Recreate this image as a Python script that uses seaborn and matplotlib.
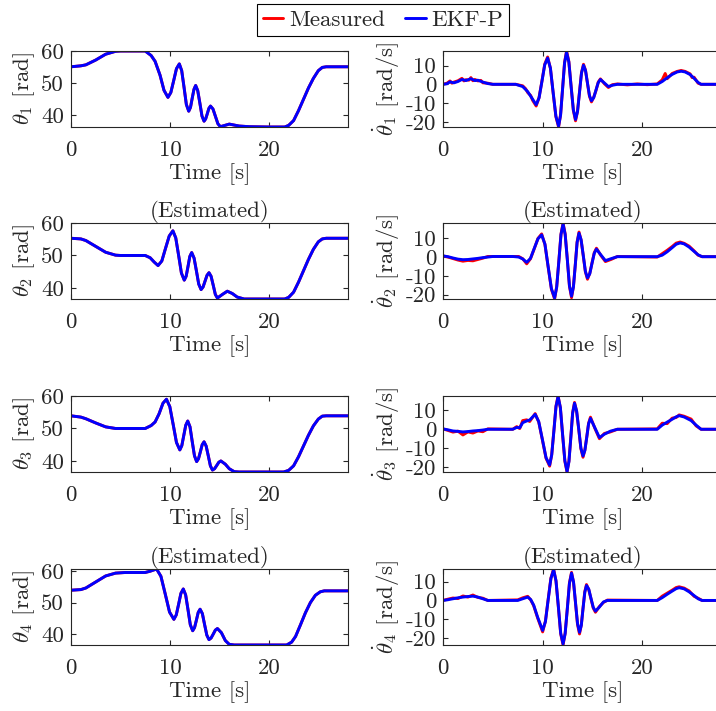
import matplotlib
matplotlib.use("Agg")
import matplotlib.pyplot as plt
import seaborn as sns

# ---------------- data ----------------
time_ticks = [0, 10, 20]
pos_ticks = [40, 50, 60]
vel_ticks = [-20, -10, 0, 10]

# joint positions (estimated, EKF-P)
t_th1 = [0, 1.0, 1.5, 2.5, 3.5, 4.5, 5.0, 7.5, 8.1, 8.5, 9.0, 9.4, 9.8,
         10.09, 10.38, 10.66, 10.95, 11.19, 11.43, 11.66, 11.9, 12.08, 12.25, 12.43, 12.6,
         12.81, 13.03, 13.24, 13.45, 13.61, 13.78, 13.94, 14.1, 14.35, 14.6, 14.85, 15.1,
         15.55, 16.0, 16.5, 17.0, 18.0, 20.0, 21.6, 22.0, 22.5, 23.0, 23.5, 24.0, 24.5,
         25.0, 25.4, 25.8, 28.0]
th1_est = [55.1, 55.4, 55.7, 57.2, 59.0, 59.9, 60.0, 60.0, 58.6, 56.8, 52.5, 47.8, 45.6,
           47.1, 50.8, 54.5, 56.0, 53.9, 48.65, 43.4, 41.3, 42.5, 45.3, 48.1, 49.3,
           47.7, 43.75, 39.8, 38.2, 38.9, 40.55, 42.2, 42.9, 42.0, 39.7, 37.4, 36.5,
           36.9, 37.3, 37.0, 36.7, 36.5, 36.4, 36.4, 36.9, 38.4, 41.5, 45.0, 48.5, 51.5,
           53.9, 54.9, 55.1, 55.1]

t_th2 = [0, 1.0, 1.5, 2.5, 3.5, 4.5, 5.0, 7.5, 8.0, 8.4, 8.8, 9.18, 9.55, 9.93, 10.3,
         10.59, 10.88, 11.16, 11.45, 11.64, 11.83, 12.01, 12.2, 12.44, 12.68, 12.91, 13.15,
         13.35, 13.55, 13.75, 13.95, 14.16, 14.38, 14.59, 14.8, 15.3, 15.8, 16.3, 16.8,
         17.5, 21.6, 22.0, 22.5, 23.0, 23.5, 24.0, 24.5, 25.0, 25.4, 25.8, 28.0]
th2_est = [55.3, 55.1, 54.6, 52.8, 51.0, 50.1, 50.0, 50.0, 49.3, 48.0, 46.9, 48.3, 52.15,
           56.0, 57.6, 55.4, 50.0, 44.6, 42.4, 43.6, 46.65, 49.7, 50.9, 49.2, 45.2, 41.2,
           39.5, 40.3, 42.1, 43.9, 44.7, 43.6, 40.8, 38.0, 36.9, 38.0, 39.0, 38.3, 37.2,
           36.6, 36.6, 37.1, 38.7, 41.8, 45.3, 48.8, 51.9, 54.2, 55.1, 55.3, 55.3]

t_th3 = [0, 1.0, 1.5, 2.5, 3.5, 4.5, 7.5, 8.1, 8.5, 8.9, 9.3, 9.65, 9.99, 10.33, 10.66,
         11.0, 11.2, 11.4, 11.6, 11.8, 12.03, 12.25, 12.48, 12.7, 12.89, 13.08, 13.26,
         13.45, 13.66, 13.88, 14.09, 14.3, 14.51, 14.73, 14.94, 15.15, 15.6, 16.0, 16.5,
         17.0, 21.5, 22.0, 22.5, 23.0, 23.5, 24.0, 24.5, 25.0, 25.4, 25.8, 28.0]
th3_est = [53.9, 53.5, 53.0, 51.7, 50.5, 50.0, 50.0, 50.9, 52.0, 54.5, 57.8, 59.0, 56.7,
           51.2, 45.7, 43.4, 44.7, 47.85, 51.0, 52.3, 50.5, 46.05, 41.6, 39.8, 40.7,
           42.85, 45.0, 45.9, 44.6, 41.55, 38.5, 37.2, 37.6, 38.6, 39.6, 40.0, 39.0,
           37.6, 36.7, 36.6, 36.6, 37.1, 38.5, 41.3, 44.6, 47.9, 50.8, 52.9, 53.8, 53.9,
           53.9]

t_th4 = [0, 1.0, 1.5, 2.5, 3.5, 4.5, 5.5, 7.5, 8.0, 8.65, 9.09, 9.53, 9.96, 10.4,
         10.64, 10.88, 11.11, 11.35, 11.59, 11.83, 12.06, 12.3, 12.49, 12.68, 12.86,
         13.05, 13.28, 13.5, 13.73, 13.95, 14.16, 14.38, 14.59, 14.8, 15.2, 15.6, 16.0,
         16.5, 21.8, 22.3, 22.7, 23.2, 23.7, 24.2, 24.7, 25.2, 25.6, 28.0]
th4_est = [53.9, 54.1, 54.6, 56.5, 58.4, 59.3, 59.5, 59.5, 59.9, 60.6, 58.3, 52.65,
           47.0, 44.7, 46.1, 49.5, 52.9, 54.3, 52.4, 47.7, 43.0, 41.1, 42.1, 44.5, 46.9,
           47.9, 46.5, 43.1, 39.7, 38.3, 38.8, 40.05, 41.3, 41.8, 40.5, 38.0, 36.8, 36.6,
           36.6, 37.5, 39.3, 43.0, 46.8, 50.0, 52.3, 53.4, 53.7, 53.7]

# measured positions coincide with the estimates in the picture
th1_meas = list(th1_est)
th2_meas = list(th2_est)
th3_meas = list(th3_est)
th4_meas = list(th4_est)

# joint velocities (estimated, EKF-P)
t_w1 = [0, 0.4, 0.7, 1.1, 1.5, 1.9, 2.3, 2.8, 3.2, 3.5, 4.0, 4.5, 5.0, 7.3, 8.0, 8.5,
        9.0, 9.35, 9.64, 9.93, 10.21, 10.5, 10.78, 11.05, 11.33, 11.6, 11.8, 12.0, 12.2,
        12.4, 12.63, 12.85, 13.08, 13.3, 13.5, 13.7, 13.9, 14.1, 14.3, 14.5, 14.7, 14.9,
        15.13, 15.35, 15.58, 15.8, 16.2, 16.6, 17.0, 17.5, 21.5, 22.0, 22.5, 23.0, 23.5,
        23.9, 24.3, 24.8, 25.2, 25.6, 25.9, 28.0]
w1_est = [0.0, 0.3, 1.3, 0.8, 1.5, 2.6, 2.0, 3.0, 2.0, 2.2, 1.2, 0.4, 0.0, 0.0, -1.2,
          -3.9, -8.0, -10.9, -7.3, 1.55, 10.4, 14.0, 8.7, -4.15, -17.0, -22.3, -16.5,
          -2.55, 11.4, 17.2, 11.9, -0.8, -13.5, -18.8, -14.6, -4.3, 6.0, 10.2, 7.4, 0.7,
          -6.0, -8.8, -7.1, -3.1, 0.9, 2.6, 0.7, -1.2, -0.5, 0.0, 0.0, 1.5, 3.5, 5.3, 6.6,
          7.0, 6.6, 5.2, 3.2, 1.0, 0.0, 0.0]
t_w1_meas = [0, 0.4, 0.7, 0.9, 1.1, 1.5, 1.9, 2.1, 2.3, 2.6, 2.8, 3.0, 3.2, 3.5, 3.8,
             4.0, 4.5, 5.0, 7.3, 8.0, 8.3, 8.5, 8.8, 9.0, 9.35, 9.64, 9.93, 10.21, 10.5,
             10.78, 11.05, 11.33, 11.6, 11.8, 12.0, 12.2, 12.4, 12.63, 12.85, 13.08, 13.3,
             13.5, 13.7, 13.9, 14.1, 14.3, 14.5, 14.7, 14.9, 15.13, 15.35, 15.58, 15.8,
             16.2, 16.6, 17.0, 17.5, 18.5, 19.5, 20.5, 21.5, 22.0, 22.3, 22.5, 23.0, 23.5,
             23.9, 24.3, 24.8, 25.0, 25.2, 25.6, 25.9, 28.0]
w1_meas = [0.0, 0.6, 1.8, 0.6, 1.2, 1.9, 3.2, 1.8, 2.5, 2.2, 3.6, 1.9, 2.6, 1.8, 2.1,
           0.8, 0.6, 0.0, 0.0, -0.8, -2.4, -4.4, -6.0, -8.6, -11.6, -7.0, 1.8, 10.8, 14.6,
           8.5, -4.4, -17.3, -22.8, -16.2, -2.3, 11.7, 17.8, 12.2, -0.6, -13.9, -19.5,
           -14.3, -4.0, 6.3, 10.7, 7.6, 0.4, -6.4, -9.4, -6.8, -3.4, 1.2, 2.9, 0.3, -1.7,
           -0.2, 0.2, -0.3, 0.2, -0.2, 0.2, 2.4, 5.8, 3.0, 5.8, 6.9, 7.4, 6.9, 5.6, 3.6,
           3.8, 0.6, 0.0, 0.0]

t_w2 = [0, 0.5, 1.0, 1.5, 2.0, 2.5, 3.0, 3.5, 4.0, 4.5, 5.0, 7.0, 7.6, 8.0, 8.4, 8.78,
        9.15, 9.53, 9.9, 10.23, 10.55, 10.88, 11.2, 11.41, 11.63, 11.84, 12.05, 12.26,
        12.48, 12.69, 12.9, 13.09, 13.28, 13.46, 13.65, 13.86, 14.08, 14.29, 14.5,
        14.73, 14.95, 15.18, 15.4, 15.85, 16.3, 16.9, 17.5, 21.5, 22.0, 22.5, 23.0,
        23.4, 23.8, 24.2, 24.7, 25.2, 25.6, 26.0, 28.0]
w2_est = [0.6, 0.2, -0.5, -1.1, -1.4, -1.3, -1.0, -0.7, -0.3, 0.0, 0.3, 0.3, 0.0, -1.0,
          -2.8, -0.7, 4.5, 9.7, 11.8, 6.9, -4.95, -16.8, -21.7, -16.0, -2.05, 11.9, 17.6,
          12.0, -1.6, -15.2, -20.8, -15.9, -4.05, 7.8, 12.7, 9.2, 0.8, -7.6, -11.1, -8.9,
          -3.45, 2.0, 4.2, 1.1, -1.9, -0.8, 0.2, 0.2, 1.0, 2.8, 5.0, 6.8, 7.5, 7.0, 5.3,
          3.0, 1.2, 0.2, 0.2]
w2_meas = [0.6, 0.0, -0.8, -1.6, -2.2, -1.8, -2.0, -1.3, -0.6, 0.3, 0.3, 0.3, 0.3, -0.9,
           -3.6, -0.9, 4.3, 9.9, 12.3, 6.7, -5.2, -17.1, -22.3, -15.7, -1.8, 12.2, 18.1,
           12.3, -1.4, -15.5, -21.6, -15.6, -3.8, 8.1, 13.3, 9.0, 0.5, -7.9, -11.8, -8.6,
           -3.2, 2.3, 4.7, 0.8, -2.4, -1.2, 0.3, 0.0, 1.8, 3.6, 5.6, 7.4, 8.0, 7.3, 5.8,
           3.3, 1.0, 0.2, 0.2]

t_w3 = [0, 0.5, 1.0, 1.5, 2.0, 2.5, 3.0, 3.5, 4.0, 4.5, 7.0, 7.4, 7.7, 8.0, 8.4, 8.7,
        9.25, 9.61, 9.98, 10.34, 10.7, 10.91, 11.13, 11.34, 11.55, 11.78, 12.0, 12.23,
        12.45, 12.64, 12.83, 13.01, 13.2, 13.41, 13.63, 13.84, 14.05, 14.24, 14.43,
        14.61, 14.8, 15.25, 15.7, 16.2, 16.8, 17.5, 21.5, 22.0, 22.5, 23.0, 23.4, 23.7,
        24.2, 24.9, 25.4, 25.9, 28.0]
w3_est = [0.2, -0.3, -0.9, -1.1, -1.4, -1.2, -0.9, -0.7, -0.4, 0.0, 0.0, 1.0, 0.8, 3.5,
          4.4, 4.9, 7.9, 4.0, -5.5, -15.0, -18.9, -13.6, -0.8, 12.0, 17.3, 11.5, -2.55,
          -16.6, -22.4, -17.1, -4.3, 8.5, 13.8, 9.7, -0.15, -10.0, -14.1, -11.2, -4.15,
          2.9, 5.8, 0.7, -4.4, -2.6, -1.0, 0.0, 0.0, 2.2, 3.8, 5.3, 6.6, 7.2, 6.5, 4.6,
          2.2, 0.0, 0.0]
w3_meas = [0.2, -0.6, -1.5, -1.0, -3.0, -1.4, -2.0, -0.9, -1.3, 0.2, 0.0, 1.4, 0.4, 4.6,
           5.0, 4.1, 8.3, 3.8, -5.8, -15.3, -19.5, -13.4, -0.6, 12.3, 17.6, 11.3, -2.8,
           -16.9, -22.6, -16.8, -4.0, 8.8, 14.2, 9.4, -0.4, -10.3, -14.8, -10.9, -3.9,
           3.2, 6.4, 0.4, -5.0, -2.2, -1.4, 0.0, 0.2, 3.2, 3.0, 5.9, 6.2, 7.6, 6.9, 5.4,
           1.8, 0.0, 0.0]

t_w4 = [0, 0.5, 1.0, 1.5, 2.0, 2.5, 3.0, 3.5, 4.0, 4.5, 7.5, 8.0, 8.5, 8.8, 9.1, 9.5,
        10.0, 10.28, 10.55, 10.83, 11.1, 11.34, 11.58, 11.81, 12.05, 12.26, 12.48, 12.69,
        12.9, 13.1, 13.3, 13.5, 13.7, 13.88, 14.05, 14.23, 14.4, 14.63, 14.85, 15.08,
        15.3, 15.7, 16.1, 16.5, 21.5, 22.0, 22.5, 23.0, 23.4, 23.7, 24.2, 24.7, 25.2,
        25.6, 26.0, 28.0]
w4_est = [0.0, 0.4, 0.9, 1.4, 1.8, 2.1, 2.3, 1.8, 0.9, 0.0, 0.0, 0.9, 1.8, 0.5, -2.5,
          -9.0, -16.0, -11.3, 0.2, 11.7, 16.4, 10.6, -3.4, -17.4, -23.2, -17.7, -4.3,
          9.1, 14.6, 9.9, -1.2, -12.3, -17.0, -13.35, -4.5, 4.35, 8.0, 6.0, 1.15, -3.7,
          -5.7, -3.5, -0.8, 0.0, 0.0, 1.5, 3.3, 5.0, 6.3, 6.8, 6.2, 4.6, 2.6, 0.9, 0.0,
          0.0]
w4_meas = [0.0, 0.7, 1.3, 1.0, 2.4, 1.8, 2.9, 1.6, 1.2, 0.0, 0.3, 1.4, 2.2, 0.3, -2.8,
           -9.4, -16.8, -11.0, 0.4, 12.0, 16.8, 10.3, -3.7, -17.8, -23.8, -17.4, -4.0,
           9.4, 15.0, 9.6, -1.5, -12.8, -17.9, -13.0, -4.3, 4.7, 8.5, 5.7, 0.9, -4.1,
           -6.3, -3.2, -1.1, 0.2, 0.0, 2.3, 3.9, 5.5, 6.9, 7.3, 6.6, 5.1, 2.2, 1.2, 0.0,
           0.0]

pos_series = [(t_th1, th1_meas, th1_est), (t_th2, th2_meas, th2_est),
              (t_th3, th3_meas, th3_est), (t_th4, th4_meas, th4_est)]
vel_series = [(t_w1_meas, w1_meas, t_w1, w1_est), (t_w2, w2_meas, t_w2, w2_est),
              (t_w3, w3_meas, t_w3, w3_est), (t_w4, w4_meas, t_w4, w4_est)]
pos_labels = [r"$\theta_1$ [rad]", r"$\theta_2$ [rad]", r"$\theta_3$ [rad]", r"$\theta_4$ [rad]"]
vel_labels = [r"$\dot{\theta}_1$ [rad/s]", r"$\dot{\theta}_2$ [rad/s]",
              r"$\dot{\theta}_3$ [rad/s]", r"$\dot{\theta}_4$ [rad/s]"]
row_titles = ["", "(Estimated)", "", "(Estimated)"]
legend_labels = ["Measured", "EKF-P"]

# ---------------- style ----------------
sns.set_style("ticks")
plt.rcParams["font.family"] = ["cmr10", "DejaVu Serif"]
plt.rcParams["mathtext.fontset"] = "cm"
plt.rcParams["axes.unicode_minus"] = False
plt.rcParams["axes.formatter.use_mathtext"] = False
FS = 16.5
EDGE = "#262626"

W, H = 716, 711
fig = plt.figure(figsize=(W / 100, H / 100), dpi=100)

col_x = [71, 443]
ax_w = 279
row_top = [51, 223, 396, 569]
ax_h = 76

RED = "#ff0000"
BLUE = "#0000ff"
LW = 2.1


def style_axes(ax, yticks, ylabel, title):
    ax.set_xlim(0, 28)
    ax.set_xticks(time_ticks)
    ax.set_xticklabels([str(v) for v in time_ticks])
    ax.set_yticks(yticks)
    ax.set_yticklabels([str(v) for v in yticks])
    ax.tick_params(direction="in", top=True, right=True, length=3.5, width=0.8,
                   labelsize=FS, colors=EDGE, pad=5)
    ax.tick_params(axis="x", pad=10)
    for s in ax.spines.values():
        s.set_color(EDGE)
        s.set_linewidth(0.8)
        s.set_visible(True)
    ax.set_xlabel("Time [s]", fontsize=FS, color=EDGE, labelpad=2)
    ax.set_ylabel(ylabel, fontsize=FS, color=EDGE, labelpad=3)
    if title:
        ax.set_title(title, fontsize=FS, color=EDGE, pad=4)


handles = None
for r in range(4):
    bottom = (H - row_top[r] - ax_h) / H
    # positions
    ax = fig.add_axes([col_x[0] / W, bottom, 277 / W, ax_h / H])
    t, m, e = pos_series[r]
    sns.lineplot(x=t, y=m, ax=ax, color=RED, lw=LW, estimator=None, sort=False,
                 label=legend_labels[0], legend=False)
    sns.lineplot(x=t, y=e, ax=ax, color=BLUE, lw=LW, estimator=None, sort=False,
                 label=legend_labels[1], legend=False)
    ax.set_ylim(min(m + e), max(m + e))
    style_axes(ax, pos_ticks, pos_labels[r], row_titles[r])
    if handles is None:
        handles = ax.get_lines()[:2]

    # velocities
    ax = fig.add_axes([col_x[1] / W, bottom, ax_w / W, ax_h / H])
    tm, m, te, e = vel_series[r]
    sns.lineplot(x=tm, y=m, ax=ax, color=RED, lw=LW, estimator=None, sort=False,
                 legend=False)
    sns.lineplot(x=te, y=e, ax=ax, color=BLUE, lw=LW, estimator=None, sort=False,
                 legend=False)
    ax.set_ylim(min(m + e), max(m + e))
    style_axes(ax, vel_ticks, vel_labels[r], row_titles[r])

leg = fig.legend(handles, legend_labels, loc="center", bbox_to_anchor=(383 / W, 1 - 20 / H),
                 ncol=2, frameon=True, fancybox=False, framealpha=1, edgecolor="black",
                 fontsize=FS, handlelength=0.9, handletextpad=0.25, columnspacing=0.9,
                 borderpad=0.25, borderaxespad=0)
leg.get_frame().set_linewidth(0.8)
for txt in leg.get_texts():
    txt.set_color(EDGE)

fig.savefig("out.png", dpi=100)
